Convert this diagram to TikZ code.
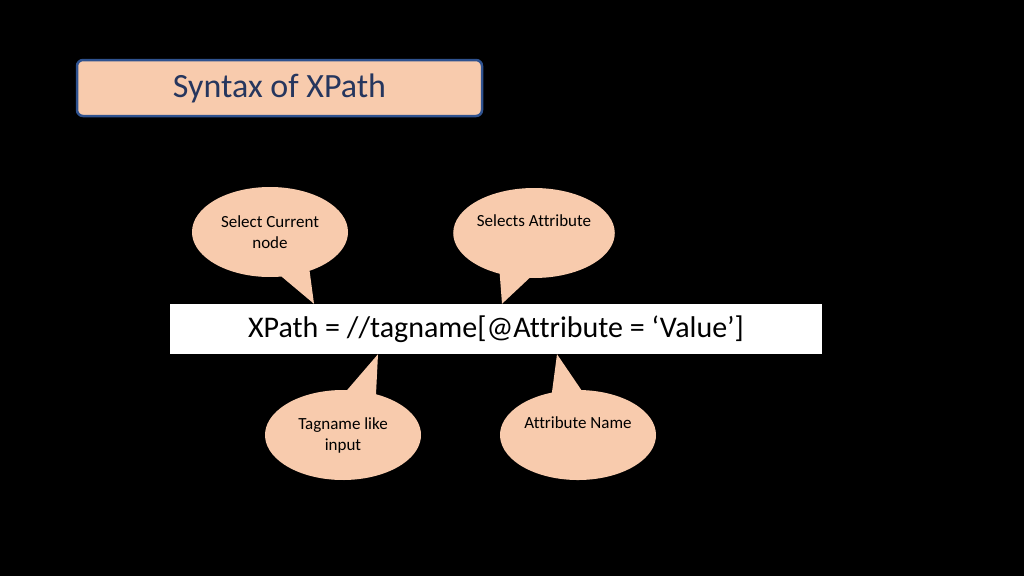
\documentclass[tikz,border=0pt]{standalone}
\usepackage{fontspec}
\setmainfont{Carlito}[Ligatures={NoCommon,NoContextual},Contextuals=NoAlternate]
\usetikzlibrary{shapes.callouts,calc}
\definecolor{peach}{RGB}{248,203,173}
\definecolor{titleblue}{RGB}{47,82,143}
\definecolor{titletext}{RGB}{38,54,94}

\begin{document}
\begin{tikzpicture}[x=1pt,y=-1pt,
  bubble/.style={ellipse callout,fill=peach,draw=none,inner sep=0pt,
    minimum width=156pt,minimum height=90pt,align=center,
    callout pointer arc=22,font=\fontsize{17}{21}\selectfont}]

\fill[black] (0,0) rectangle (1024,576);

\node[draw=titleblue,line width=2.5pt,fill=peach,rounded corners=6pt,minimum width=405pt,minimum height=56pt,
  text=titletext,font=\fontsize{34}{40}\selectfont] (title) at (279.5,88) {Syntax of XPath};

\node[fill=white,minimum width=652pt,minimum height=50pt,inner sep=0pt,
  font=\fontsize{30}{36}\selectfont] (xpath) at (496,329) {XPath = //tagname[@Attribute = ‘Value’]};

\coordinate (tipcur) at ($(xpath.north)+(-182,0)$);
\coordinate (tipatt) at ($(xpath.north)+(6,0)$);
\coordinate (tiptag) at ($(xpath.south)+(-118,0)$);
\coordinate (tipname) at ($(xpath.south)+(61,0)$);

\node[bubble,callout absolute pointer=(tipcur)] (current) at (270,232) {Select Current\\node};
\node[bubble,callout absolute pointer=(tipatt)] (selatt) at (534,233) {Selects Attribute\\[-3pt]\strut};
\node[bubble,callout absolute pointer=(tiptag)] (tagname) at (343,435) {Tagname like\\input};
\node[bubble,callout absolute pointer=(tipname)] (attname) at (578,435) {Attribute Name\\[-3pt]\strut};
\end{tikzpicture}
\end{document}
